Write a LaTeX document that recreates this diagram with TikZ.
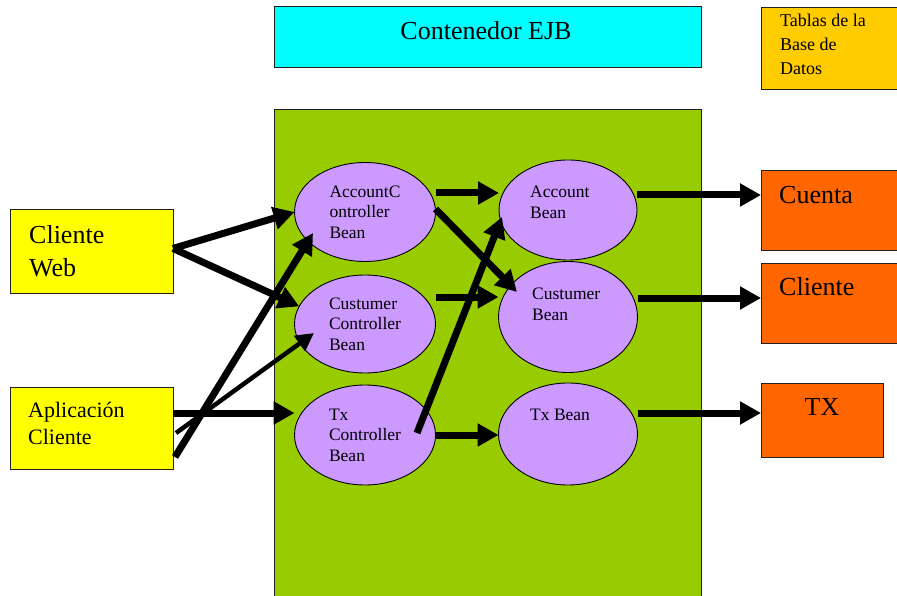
\documentclass[tikz,border=0pt]{standalone}
\usepackage{fontspec}
\setmainfont{Liberation Serif}
\newfontfamily\diagfont{Liberation Serif}
\usetikzlibrary{arrows.meta,shapes.geometric}
\definecolor{ejbcyan}{HTML}{00FFFF}
\definecolor{contgreen}{HTML}{99CC00}
\definecolor{clientyellow}{HTML}{FFFF00}
\definecolor{dbgold}{HTML}{FFCC00}
\definecolor{taborange}{HTML}{FF6600}
\definecolor{beanviolet}{HTML}{CC99FF}
\definecolor{edgegray}{HTML}{202020}
\tikzset{
  box/.style={draw=edgegray, line width=1pt, rectangle, inner sep=0pt, outer sep=0pt},
  bean/.style={draw=black, line width=0.9pt, ellipse, fill=beanviolet, inner sep=0pt,
    outer sep=0pt, align=left, font=\diagfont\fontsize{17.5}{20.5}\selectfont},
  beantext/.style={anchor=west, align=left, inner sep=0pt, font=\diagfont\fontsize{17.5}{21}\selectfont},
  bigtext/.style={anchor=west, align=left, inner sep=0pt, font=\diagfont\fontsize{26}{33}\selectfont},
  arr/.style={draw=black, line width=7pt, -{Triangle[length=21pt,width=22pt]}},
  thinarr/.style={draw=black, line width=4.5pt, -{Triangle[length=18pt,width=18pt]}}
}
\begin{document}
\begin{tikzpicture}[x=1pt,y=-1pt]
\useasboundingbox (0,0) rectangle (897,596);
\fill[white] (0,0) rectangle (897,596);

% header and container
\node[box, fill=ejbcyan, minimum width=427pt, minimum height=61pt] (ejb) at (487.5,37.5) {};
\node[inner sep=0pt, font=\diagfont\fontsize{26}{30}\selectfont] (ejbt) at (486,31) {Contenedor EJB};
\node[box, fill=contgreen, minimum width=427pt, minimum height=500pt] (cont) at (487.5,360) {};

% database legend and tables
\node[box, fill=dbgold, minimum width=140pt, minimum height=82pt] (db) at (831,49) {};
\node[anchor=north west, align=left, inner sep=0pt, font=\diagfont\fontsize{18}{24}\selectfont] (dbt) at (780,14) {Tablas de la\\Base de\\Datos};
\node[box, fill=taborange, minimum width=140pt, minimum height=80pt] (cuenta) at (831,211) {};
\node[bigtext] (cuentat) at (779,195) {Cuenta};
\node[box, fill=taborange, minimum width=140pt, minimum height=80pt] (cliente) at (831,303) {};
\node[bigtext] (clientet) at (779,287) {Cliente};
\node[box, fill=taborange, minimum width=122pt, minimum height=74pt] (tx) at (822,420) {};
\node[inner sep=0pt, font=\diagfont\fontsize{26}{30}\selectfont] (txt) at (822,407) {TX};

% clients
\node[box, fill=clientyellow, minimum width=163pt, minimum height=83pt] (cw) at (91.5,251.5) {};
\node[bigtext] (cwt) at (29,251) {Cliente\\Web};
\node[box, fill=clientyellow, minimum width=163pt, minimum height=82pt] (ac) at (91.5,428) {};
\node[anchor=west, align=left, inner sep=0pt, font=\diagfont\fontsize{22}{27}\selectfont] (act) at (28,423) {Aplicación\\Cliente};

% controller beans
\node[bean, minimum width=141pt, minimum height=99pt] (acb) at (365,212) {AccountC\\ontroller\\Bean};
\node[bean, minimum width=141pt, minimum height=98pt] (ccb) at (365,324) {Custumer\\Controller\\Bean};
\node[bean, minimum width=141pt, minimum height=100pt] (tcb) at (365,435) {Tx\\Controller\\Bean};

% entity beans
\node[bean, minimum width=138pt, minimum height=100pt] (ab) at (568,210) {};
\node[beantext] (abt) at (530,202.5) {Account\\Bean};
\node[bean, minimum width=139pt, minimum height=111pt] (cb) at (568,317) {};
\node[beantext] (cbt) at (532,304) {Custumer\\Bean};
\node[bean, minimum width=139pt, minimum height=102pt] (tb) at (568,434) {};
\node[beantext] (tbt) at (530,415) {Tx Bean};

% clients to controllers
\draw[arr] ([yshift=3pt]cw.east) -- (acb.west);
\draw[arr] ([yshift=3pt]cw.east) -- (ccb.165);
\draw[arr] ([yshift=15pt]ac.east) -- ([yshift=15pt]ac.east -| tcb.west);
\draw[thinarr] ([shift={(3pt,-5pt)}]ac.east) -- ([shift={(-51pt,-9pt)}]ccb.center);
\draw[arr] ([shift={(2pt,-29pt)}]ac.east) -- ([shift={(-52pt,-21pt)}]acb.center);

% controllers to entity beans
\draw[arr] ([yshift=19pt]acb.east) -- ([yshift=19pt]acb.east -| ab.west);
\draw[arr] ([yshift=3pt]acb.east) -- ([shift={(-51pt,25pt)}]cb.center);
\draw[arr] ([yshift=27pt]ccb.east) -- ([yshift=27pt]ccb.east -| cb.west);
\draw[arr] ([shift={(52pt,2pt)}]tcb.center) -- ([shift={(-66pt,-7pt)}]ab.center);
\draw[arr] (tcb.east) -- (tcb.east -| tb.west);

% entity beans to tables
\draw[arr] ([yshift=15pt]ab.east) -- ([yshift=15pt]ab.east -| cuenta.west);
\draw[arr] ([yshift=19pt]cb.east) -- ([yshift=19pt]cb.east -| cliente.west);
\draw[arr] ([yshift=21pt]tb.east) -- ([yshift=21pt]tb.east -| tx.west);
\end{tikzpicture}
\end{document}
